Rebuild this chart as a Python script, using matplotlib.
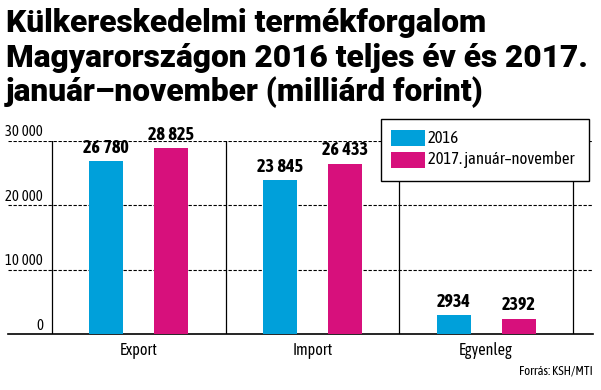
import matplotlib
matplotlib.use("Agg")
import matplotlib.pyplot as plt
from matplotlib.patches import Rectangle
import matplotlib.transforms as mtransforms

# adatok (milliárd forint)
categories = ["Export", "Import", "Egyenleg"]
series_names = ["2016", "2017. január\u2013november"]
values_2016 = [26780, 23845, 2934]
values_2017 = [28825, 26433, 2392]
yticks = [0, 10000, 20000, 30000]

TITLE_LINES = ["Külkereskedelmi termékforgalom",
               "Magyarországon 2016 teljes év és 2017.",
               "január\u2013november (milliárd forint)"]

BLUE = "#00a0da"
PINK = "#d7107c"
NARROW = ["Asap Condensed", "DejaVu Sans"]
HEAVY = ["Roboto", "DejaVu Sans"]


def fmt(v):
    return f"{v:,}".replace(",", "\u2009") if v >= 10000 else str(v)


fig = plt.figure(figsize=(6.01, 3.90), dpi=100)
ax = fig.add_axes([8 / 601, 56 / 390, 585 / 601, 193.3 / 390])

x = list(range(len(categories)))
w = 0.196
off = 0.187
ax.bar([i - off for i in x], values_2016, w, color=BLUE, zorder=3)
ax.bar([i + off for i in x], values_2017, w, color=PINK, zorder=3)

for i in x:
    for dx, v in ((-off, values_2016[i]), (off, values_2017[i])):
        ax.text(i + dx, v + 700, fmt(v), ha="center", va="bottom",
                fontsize=13, fontweight="bold", family=NARROW)

# szaggatott rácsvonalak, elválasztók
for t in yticks[1:]:
    ax.axhline(t, color="black", lw=0.8, ls=(0, (3, 1.5)), zorder=1)
for sep in [-0.5, 0.5, 1.5, 2.5]:
    ax.plot([sep, sep], [0, yticks[-1]], color="black", lw=0.9, zorder=2)

trans = mtransforms.blended_transform_factory(fig.transFigure, ax.transData)
for t in yticks:
    ax.text(43 / 601, t + 200, fmt(t), transform=trans,
            ha="right", va="bottom", fontsize=10.5, family=NARROW)

ax.set_xlim(-0.753, 2.615)
ax.set_ylim(0, 30000)
ax.set_yticks([])
ax.set_xticks(x)
ax.set_xticklabels(categories, fontsize=11.5, family=NARROW)
ax.tick_params(axis="x", length=0, pad=6)
for s in ["top", "left", "right"]:
    ax.spines[s].set_visible(False)
ax.spines["bottom"].set_linewidth(1.2)

# jelmagyarázat
lx0, ly0, lx1, ly1 = 381, 119, 589, 181
fig.patches.append(Rectangle((lx0 / 601, 1 - ly1 / 390), (lx1 - lx0) / 601,
                             (ly1 - ly0) / 390, transform=fig.transFigure,
                             facecolor="white", edgecolor="black", lw=1,
                             zorder=5))
for k, (name, col) in enumerate(zip(series_names, [BLUE, PINK])):
    yt = 130 + k * 22
    fig.patches.append(Rectangle((391 / 601, 1 - (yt + 16) / 390), 34 / 601,
                                 16 / 390, transform=fig.transFigure,
                                 facecolor=col, edgecolor="none", zorder=6))
    fig.text(428 / 601, 1 - (yt + 8) / 390, name, ha="left", va="center",
             fontsize=12, family=NARROW, zorder=7)

# cím: soronként, a leghosszabb sor kb. 582 px széles legyen
renderer = fig.canvas.get_renderer()
baselines = [32, 67, 101]
probe = fig.text(0, 0, TITLE_LINES[1], fontsize=20, fontweight=900, family=HEAVY)
size = min(23, 20 * 582 / probe.get_window_extent(renderer).width)
probe.remove()
for line, yb in zip(TITLE_LINES, baselines):
    fig.text(6 / 601, 1 - yb / 390, line, ha="left", va="baseline",
             fontsize=size, fontweight=900, family=HEAVY)

fig.text(593 / 601, 1 - 377 / 390, "Forrás: KSH/MTI", ha="right",
         va="bottom", fontsize=9.3, family=NARROW)

fig.savefig("out.png", dpi=100)
